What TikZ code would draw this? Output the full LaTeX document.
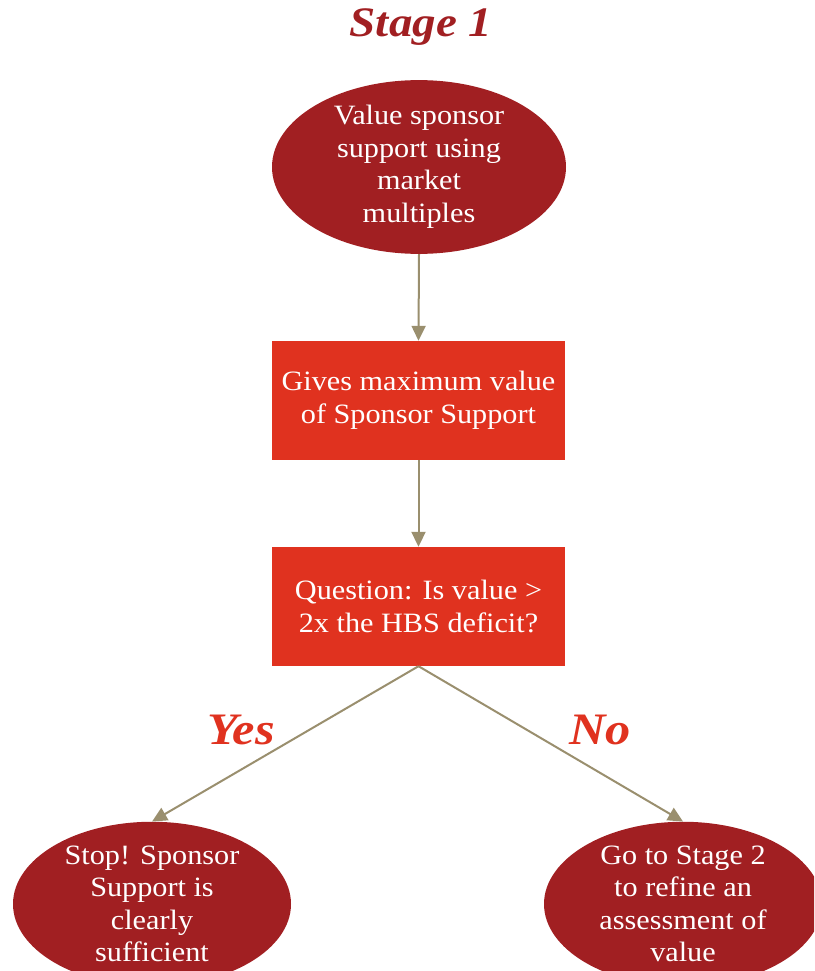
\documentclass[tikz,border=0pt]{standalone}
\usepackage{fontspec}
\setmainfont{Liberation Serif}
\newfontfamily\bodyface[FakeStretch=1.08]{Liberation Serif}
\newfontfamily\titleface[FakeStretch=1.12]{Liberation Serif}
\usetikzlibrary{shapes.geometric,arrows.meta}
\definecolor{darkred}{HTML}{A11F22}
\definecolor{brightred}{HTML}{E0321F}
\definecolor{khaki}{HTML}{9A8F6E}
\begin{document}
\begin{tikzpicture}[x=1pt,y=-1pt,
  bodytext/.style={text=white,font=\bodyface\fontsize{28}{32.5}\selectfont,align=center,inner sep=0pt},
  oval/.style={bodytext,ellipse,fill=darkred,minimum width=294pt,minimum height=171pt},
  lowoval/.style={bodytext,ellipse,fill=darkred,minimum width=278pt,minimum height=150pt},
  panel/.style={bodytext,rectangle,fill=brightred,minimum width=293pt,minimum height=119pt},
  heading/.style={text=darkred,font=\titleface\fontsize{42}{48}\selectfont\bfseries\itshape,inner sep=0pt},
  branch/.style={text=brightred,font=\titleface\fontsize{45}{50}\selectfont\bfseries\itshape,inner sep=0pt},
  conn/.style={draw=khaki,line width=2pt,-{Triangle[length=15pt,width=14pt]}}]
\clip (0,0) rectangle (814,971);
\useasboundingbox (0,0) rectangle (814,971);

\node[heading] (title) at (421,27) {Stage 1};

\node[oval] (value) at (419,167) {Value sponsor\\support using\\market\\multiples};
\node[panel] (maxval) at (418.5,400.5) {Gives maximum value\\of Sponsor Support};
\node[panel] (question) at (418.5,606.5) {Question: Is value >\\2x the HBS deficit?};

\node[lowoval] (stop) at (152,904) {Stop! Sponsor\\Support is\\clearly\\sufficient};
\node[lowoval] (stage2) at (683,904) {Go to Stage 2\\to refine an\\assessment of\\value};

\node[branch] (yes) at (241,730) {Yes};
\node[branch] (no) at (600,730) {No};

\draw[conn] (value.south) -- (maxval.north);
\draw[conn] (maxval.south) -- (question.north);
\draw[conn] (question.south) -- (stop.north);
\draw[conn] (question.south) -- (stage2.north);
\end{tikzpicture}
\end{document}
